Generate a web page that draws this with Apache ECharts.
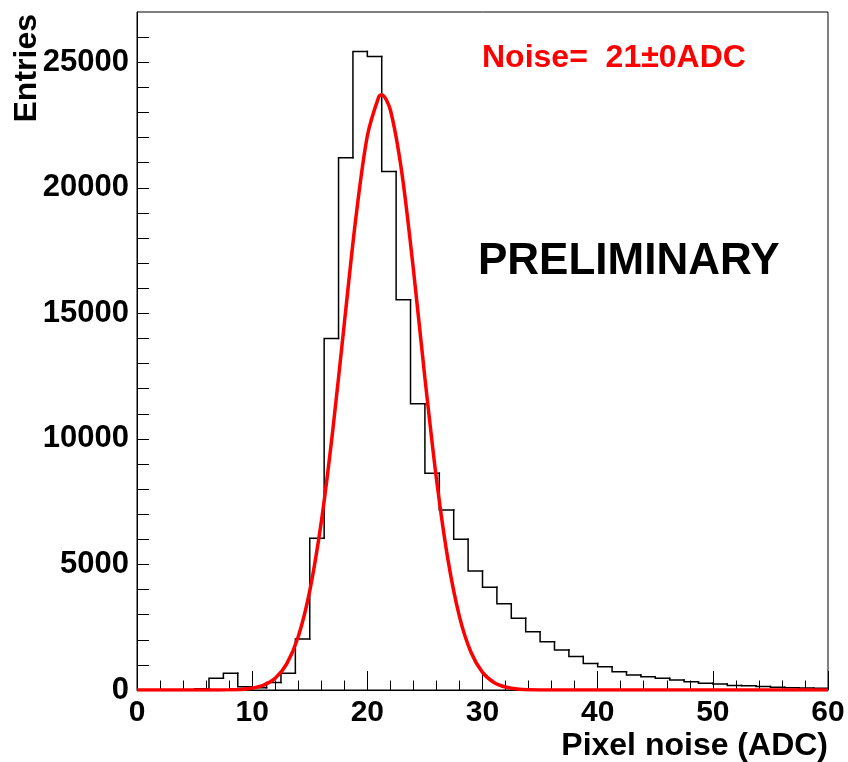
<!DOCTYPE html>
<html>
<head>
<meta charset="utf-8">
<script src="https://cdn.jsdelivr.net/npm/echarts@6/dist/echarts.min.js"></script>
<style>
  html, body { margin: 0; padding: 0; background: #fff; }
  #chart { width: 848px; height: 762px; }
</style>
</head>
<body>
<div id="chart"></div>
<script>
// histogram: 48 bins of width 1.25 from 0 to 60
const binStart = 0;
const binWidth = 1.25;
const entries = [
  0, 0, 0, 0, 46, 466, 665, 131, 90, 300, 665, 2030,
  6040, 14000, 21200, 25430, 25230, 20650, 15540, 11400, 8630, 7170, 6000, 4740,
  4090, 3430, 2860, 2320, 1920, 1590, 1330, 1060, 930, 730, 600, 530,
  465, 400, 330, 265, 240, 175, 170, 135, 105, 90, 80, 65
];

// red fit curve
const fitX = [0, 6, 8, 9, 10, 11, 12, 13, 14, 15, 16, 17, 18, 19, 20, 21, 21.25, 22, 23, 24, 25, 26, 27, 28, 29, 30, 31, 32, 33, 34, 36, 40, 50, 60];
const fitY = [0, 0, 7, 24, 71, 190, 466, 1041, 2122, 3945, 6686, 10343, 14592, 18785, 22060, 23632, 23700, 23096, 20590, 16749, 12426, 8411, 5193, 2925, 1503, 704, 302, 118, 42, 14, 1, 0, 0, 0];

const xTicks = [0, 10, 20, 30, 40, 50, 60];
const yLabels = [0, 5000, 10000, 15000, 20000, 25000];

// one item per bin: [low edge, high edge, content, previous content]
const histData = entries.map((v, i) => [
  binStart + i * binWidth,
  binStart + (i + 1) * binWidth,
  v,
  i > 0 ? entries[i - 1] : 0,
]);
const fitData = fitX.map((x, i) => [x, fitY[i]]);

// step outline: rise/fall at the low edge, then across the bin top
function renderBin(params, api) {
  const lo = api.value(0);
  const hi = api.value(1);
  const v = api.value(2);
  const prev = api.value(3);
  return {
    type: "polyline",
    shape: {
      points: [api.coord([lo, prev]), api.coord([lo, v]), api.coord([hi, v])],
    },
    style: { fill: null, stroke: "#000", lineWidth: 1.5, lineCap: "square", lineJoin: "miter" },
  };
}

const font = "'Liberation Sans', Arial, Helvetica, sans-serif";
const chart = echarts.init(document.getElementById("chart"));

chart.setOption({
  animation: false,
  backgroundColor: "#fff",
  grid: {
    left: 137,
    top: 12,
    width: 691,
    height: 678,
    show: true,
    borderColor: "#000",
    borderWidth: 1,
    backgroundColor: "transparent",
  },
  xAxis: {
    type: "value",
    min: xTicks[0],
    max: xTicks[xTicks.length - 1],
    interval: 10,
    splitLine: { show: false },
    axisLine: { onZero: false, lineStyle: { color: "#000", width: 1 } },
    axisTick: { inside: true, length: 19, lineStyle: { color: "#000", width: 1 } },
    minorTick: { show: true, splitNumber: 5, length: 9.5, lineStyle: { color: "#000", width: 1 } },
    axisLabel: {
      margin: 8,
      color: "#000",
      fontFamily: font,
      fontWeight: "bold",
      fontSize: 30,
    },
  },
  yAxis: {
    type: "value",
    min: 0,
    max: 27000,
    interval: 1000,
    splitLine: { show: false },
    axisLine: { onZero: false, lineStyle: { color: "#000", width: 1 } },
    axisTick: { inside: true, length: 12, lineStyle: { color: "#000", width: 1 } },
    axisLabel: {
      margin: 8,
      color: "#000",
      fontFamily: font,
      fontWeight: "bold",
      fontSize: 31,
      showMaxLabel: false,
      formatter: (v) => (yLabels.indexOf(v) >= 0 ? String(v) : ""),
    },
  },
  graphic: [
    {
      type: "text",
      x: 27,
      y: 14,
      rotation: Math.PI / 2,
      style: {
        text: "Entries",
        font: "bold 32px " + font,
        fill: "#000",
        textAlign: "right",
        textVerticalAlign: "middle",
      },
    },
    {
      type: "text",
      x: 828,
      y: 746,
      style: {
        text: "Pixel noise (ADC)",
        font: "bold 32px " + font,
        fill: "#000",
        textAlign: "right",
        textVerticalAlign: "middle",
      },
    },
    {
      type: "text",
      x: 482,
      y: 58,
      style: {
        text: "Noise=  21\u00b10ADC",
        font: "bold 32px " + font,
        fill: "#ff0000",
        textAlign: "left",
        textVerticalAlign: "middle",
      },
    },
    {
      type: "text",
      x: 478,
      y: 262,
      style: {
        text: "PRELIMINARY",
        font: "bold 44px " + font,
        fill: "#000",
        textAlign: "left",
        textVerticalAlign: "middle",
      },
    },
  ],
  series: [
    {
      name: "hist",
      type: "custom",
      renderItem: renderBin,
      data: histData,
      encode: { x: [0, 1], y: [2, 3] },
      clip: true,
      z: 2,
    },
    {
      name: "fit",
      type: "line",
      data: fitData,
      smooth: 0.3,
      symbol: "none",
      lineStyle: { color: "#ff0000", width: 3.5 },
      z: 3,
    },
  ],
});
</script>
</body>
</html>
